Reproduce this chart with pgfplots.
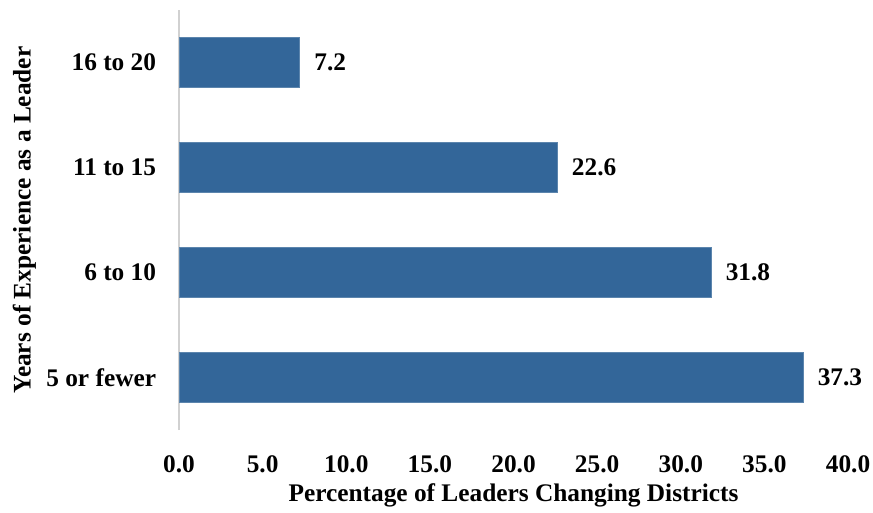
\documentclass[border=0pt]{standalone}
\usepackage{fontspec}
\setmainfont{Liberation Serif}
\usepackage{pgfplots}
\pgfplotsset{compat=1.18}
\definecolor{barblue}{HTML}{336699}
\newcommand{\bigf}{\fontsize{19}{21}\selectfont\bfseries}
\begin{document}
\begin{tikzpicture}
\path[use as bounding box] (-134.25pt,-61.5pt) rectangle (520.5pt,322.5pt);
\begin{axis}[at={(0,0)}, anchor=south west, scale only axis,
  width=501.75pt, height=315pt,
  xbar, bar width=37.5pt,
  xmin=0, xmax=40, ymin=-0.5, ymax=3.5,
  ytick={0,1,2,3}, yticklabels={5 or fewer,6 to 10,11 to 15,16 to 20},
  xtick={0,5,...,40},
  xticklabel={\pgfmathprintnumber[fixed,fixed zerofill,precision=1]{\tick}},
  axis x line*=bottom, axis y line*=left,
  x axis line style={draw=none},
  y axis line style={draw=black!18, line width=1pt},
  major tick length=0pt,
  tick style={draw=none},
  /pgf/number format/assume math mode=true,
  tick label style={font=\bigf},
  yticklabel style={anchor=east, inner sep=0pt, xshift=-17pt},
  xticklabel style={anchor=north, inner sep=0pt, yshift=-19pt},
  xlabel={Percentage of Leaders Changing Districts},
  xlabel style={at={(rel axis cs:0.5,0)}, anchor=center, yshift=-48.75pt, font=\bigf},
  nodes near coords,
  nodes near coords style={anchor=west, inner sep=0pt, xshift=11pt, font=\bigf, text=black},
  every node near coord/.append style={/pgf/number format/.cd, fixed, fixed zerofill, precision=1},
]
\addplot[fill=barblue, draw=barblue!80!white] coordinates {(37.3,0) (31.8,1) (22.6,2) (7.2,3)};
\end{axis}
\node[rotate=90, font=\bigf] at (-116pt,157.5pt) {Years of Experience as a Leader};
\end{tikzpicture}
\end{document}
